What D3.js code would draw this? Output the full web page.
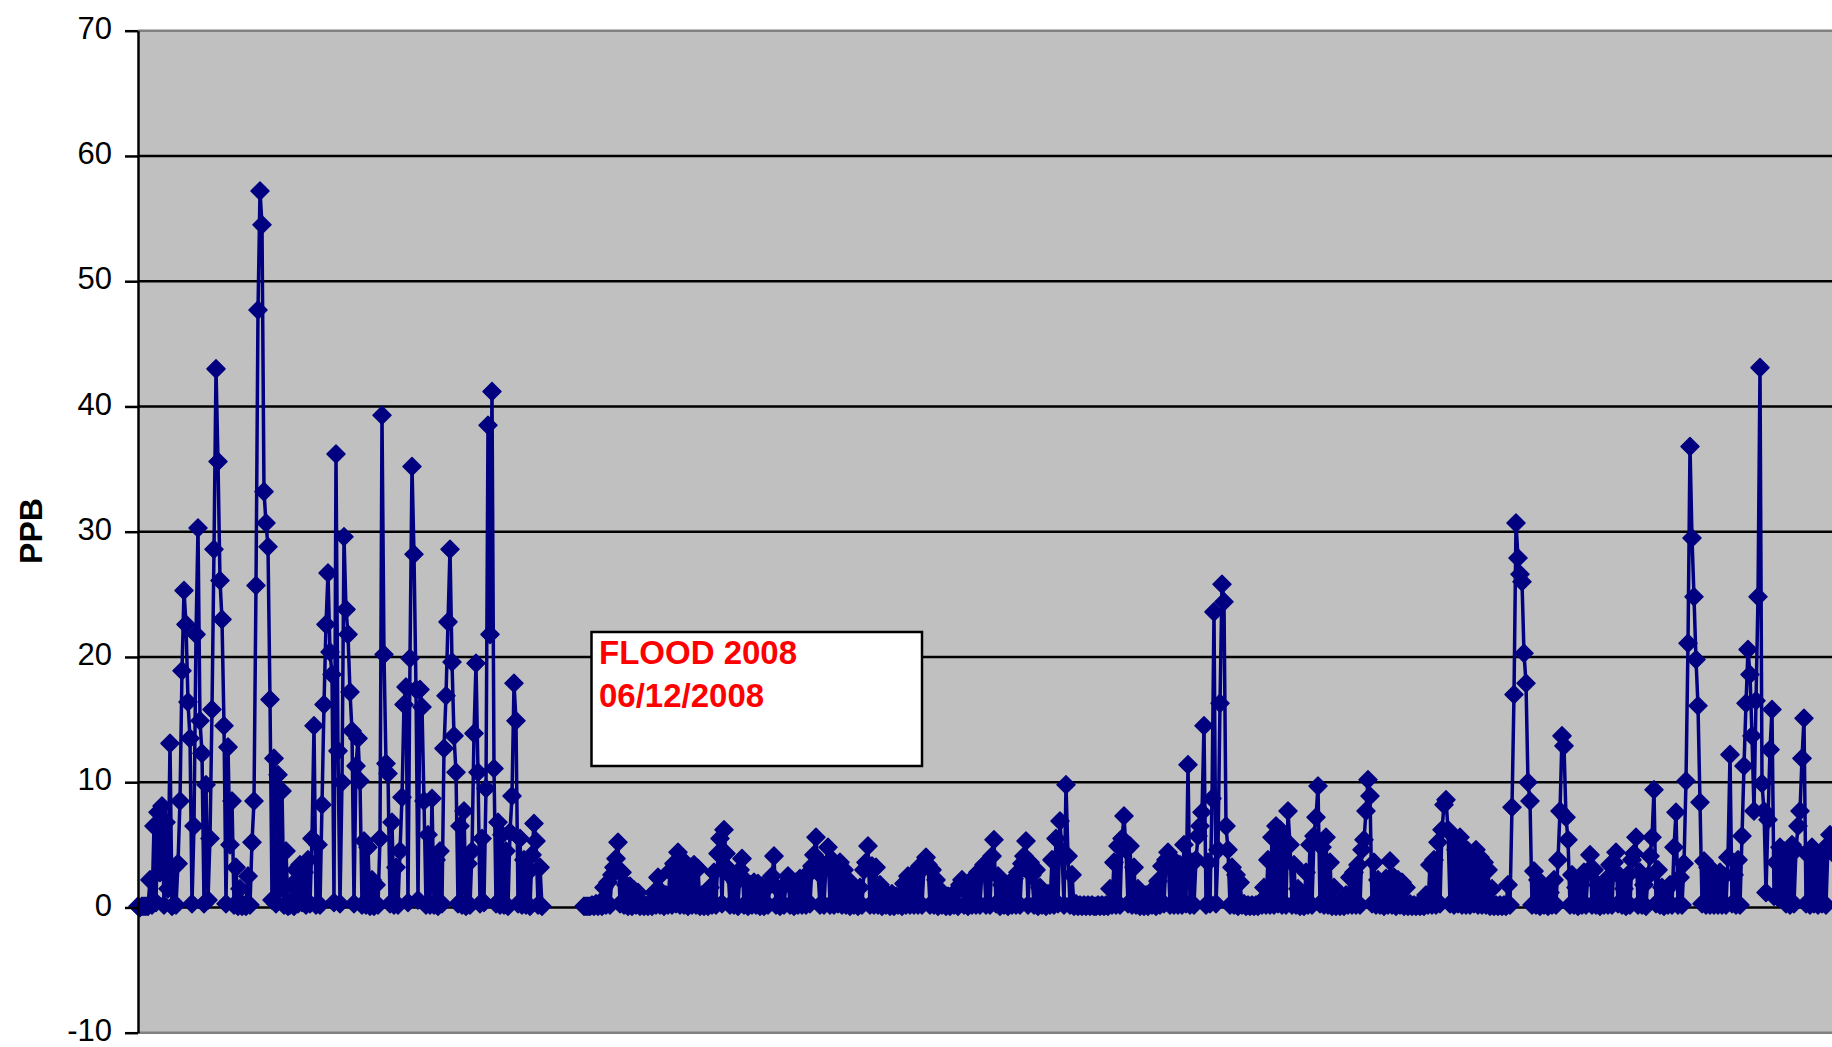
<!DOCTYPE html>
<html>
<head>
<meta charset="utf-8">
<script src="https://cdn.jsdelivr.net/npm/d3@7"></script>
<style>
  body { margin: 0; background: #fff; }
  svg { display: block; font-family: "Liberation Sans", Arial, sans-serif; }
</style>
</head>
<body>
<div id="chart"></div>
<script>
// y axis ticks (PPB)
var yTicks = [-10, 0, 10, 20, 30, 40, 50, 60, 70];

// readings before the flood, one value per sample
var preFloodPpb = [
  0.1, 0.0, 0.1, 0.1, 0.1, 0.1, 2.2, 0.2, 6.5, 0.4,
  7.6, 2.8, 8.1, 0.2, 6.8, 1.5, 13.1, 0.1, 3.2, 0.2,
  3.5, 8.5, 18.9, 25.3, 22.6, 16.4, 13.5, 0.3, 6.5, 21.8,
  30.3, 14.9, 12.3, 0.3, 9.8, 0.6, 5.5, 15.8, 28.6, 43.0,
  35.6, 26.1, 23.0, 14.5, 0.3, 12.8, 5.0, 8.5, 0.2, 3.2,
  0.1, 1.5, 0.1, 0.2, 0.1, 2.5, 0.2, 5.2, 8.5, 25.7,
  47.7, 57.2, 54.5, 33.2, 30.7, 28.8, 16.6, 0.6, 11.9, 0.3,
  10.6, 1.5, 9.3, 0.2, 4.5, 0.1, 0.2, 1.8, 0.1, 3.0,
  0.3, 3.4, 0.4, 2.8, 0.2, 3.8, 0.3, 5.5, 14.5, 0.2,
  5.0, 0.2, 8.2, 16.2, 22.6, 26.7, 20.4, 18.6, 0.4, 36.2,
  12.5, 0.3, 10.0, 29.6, 23.8, 21.8, 17.2, 14.1, 0.3, 11.3,
  13.5, 10.1, 0.2, 5.3, 0.2, 4.8, 0.1, 2.2, 0.1, 1.8,
  0.2, 5.5, 39.3, 20.2, 11.5, 10.7, 0.3, 6.8, 0.2, 3.2,
  0.2, 4.5, 8.8, 16.2, 17.6, 0.4, 19.9, 35.2, 28.2, 17.4,
  0.6, 17.4, 16.0, 8.5, 0.2, 5.8, 0.2, 8.7, 0.2, 3.8,
  0.1, 4.5, 0.3, 12.7, 16.9, 22.8, 28.6, 19.6, 13.7, 10.8,
  0.3, 6.5, 0.2, 7.7, 0.1, 3.5, 0.2, 4.5, 13.9, 19.5,
  10.8, 0.3, 5.5, 0.4, 9.5, 38.5, 21.8, 41.2, 11.1, 0.3,
  6.8, 0.2, 5.8, 0.2, 4.5, 0.1, 6.0, 8.9, 17.9, 14.9,
  0.3, 5.5, 0.2, 3.8, 0.2, 2.8, 0.1, 4.2, 6.7, 5.3,
  0.2, 3.2, 0.1
];

// samples missing during the flood
var floodGapSamples = 20;

// readings after the flood
var postFloodPpb = [
  0.1, 0.1, 0.1, 0.1, 0.2, 0.1, 0.3, 0.1, 0.4, 0.1,
  1.6, 0.2, 2.0, 0.2, 2.6, 3.2, 3.9, 5.2, 0.3, 2.8,
  0.2, 1.8, 0.1, 1.7, 0.1, 1.4, 0.2, 1.2, 0.1, 0.3,
  0.1, 0.2, 0.1, 0.3, 0.1, 1.2, 0.2, 2.4, 0.2, 1.2,
  0.1, 1.0, 0.2, 2.9, 0.2, 3.5, 0.3, 4.4, 0.2, 3.4,
  0.2, 3.5, 0.1, 3.2, 0.2, 3.4, 0.2, 3.1, 0.1, 1.0,
  0.1, 1.2, 0.1, 1.6, 0.2, 2.8, 0.2, 4.3, 5.5, 0.3,
  6.2, 4.3, 3.1, 0.2, 2.4, 0.2, 2.0, 0.1, 3.0, 3.9,
  0.2, 2.1, 0.1, 1.8, 0.2, 2.0, 0.2, 1.9, 0.1, 1.7,
  0.1, 1.6, 0.2, 1.8, 2.5, 4.1, 0.2, 1.5, 0.1, 1.6,
  0.2, 1.9, 2.5, 0.2, 1.8, 0.1, 2.0, 0.2, 2.3, 0.2,
  2.4, 0.2, 2.6, 0.3, 3.3, 4.2, 5.6, 2.8, 0.2, 3.5,
  0.2, 3.4, 4.8, 0.2, 3.8, 0.2, 3.4, 0.3, 3.6, 0.2,
  3.0, 0.2, 2.2, 0.1, 1.8, 0.2, 1.4, 0.1, 1.6, 0.2,
  3.0, 3.6, 4.9, 0.2, 3.3, 0.2, 3.2, 0.2, 1.8, 0.1,
  1.2, 0.2, 1.0, 0.1, 1.1, 0.1, 0.9, 0.2, 1.0, 0.1,
  1.9, 0.2, 2.5, 0.2, 2.4, 0.2, 2.9, 0.2, 3.3, 0.2,
  3.2, 4.0, 3.4, 0.2, 3.0, 0.2, 2.2, 0.1, 1.4, 0.2,
  1.0, 0.1, 0.9, 0.1, 1.0, 0.2, 1.2, 0.1, 1.8, 2.2,
  0.2, 1.5, 0.1, 1.9, 0.2, 2.4, 0.2, 2.8, 0.2, 3.0,
  3.4, 0.2, 2.9, 0.2, 4.1, 5.4, 0.3, 2.5, 0.1, 1.8,
  0.2, 1.6, 0.1, 1.9, 0.2, 2.3, 0.2, 2.8, 0.2, 3.5,
  4.1, 5.3, 0.2, 3.6, 2.6, 0.2, 3.0, 0.1, 1.6, 0.2,
  1.0, 0.1, 1.1, 0.2, 3.8, 0.2, 5.5, 0.3, 6.9, 4.4,
  0.2, 9.8, 4.1, 0.2, 2.6, 0.1, 0.3, 0.1, 0.2, 0.1,
  0.2, 0.1, 0.2, 0.1, 0.2, 0.1, 0.1, 0.2, 0.1, 0.2,
  0.1, 0.2, 0.1, 1.5, 0.2, 3.6, 0.2, 4.9, 0.2, 5.5,
  7.3, 4.6, 0.3, 4.9, 0.2, 3.2, 0.2, 1.5, 0.1, 0.3,
  0.1, 1.0, 0.1, 1.2, 0.2, 1.1, 0.1, 2.1, 0.2, 3.3,
  0.3, 3.8, 4.4, 0.2, 3.5, 0.2, 3.6, 0.2, 3.4, 0.2,
  5.0, 0.3, 11.4, 0.2, 3.6, 0.2, 3.8, 5.7, 6.5, 7.6,
  14.5, 0.2, 3.6, 0.3, 8.7, 23.6, 0.3, 4.6, 16.3, 25.8,
  24.4, 6.5, 4.6, 0.2, 3.2, 0.2, 2.6, 0.1, 2.0, 0.2,
  0.3, 0.1, 0.2, 0.1, 0.2, 0.1, 0.2, 0.1, 0.4, 0.2,
  1.6, 0.2, 3.8, 0.2, 5.6, 0.2, 6.5, 0.3, 6.2, 0.2,
  5.4, 0.2, 7.7, 5.0, 0.2, 3.4, 0.2, 1.5, 0.1, 0.4,
  0.1, 2.8, 0.2, 5.0, 0.2, 5.7, 7.2, 9.7, 0.3, 4.8,
  0.2, 5.6, 0.2, 3.6, 0.1, 1.6, 0.1, 0.3, 0.1, 0.3,
  0.1, 1.0, 0.2, 2.4, 0.2, 2.8, 0.2, 3.4, 0.2, 4.6,
  5.4, 7.7, 10.2, 8.9, 0.3, 3.6, 0.2, 2.2, 0.2, 1.9,
  0.1, 2.3, 0.2, 3.7, 0.2, 2.4, 0.1, 2.2, 0.2, 2.0,
  0.1, 1.6, 0.1, 0.3, 0.1, 0.2, 0.1, 0.2, 0.1, 0.2,
  0.1, 1.0, 0.2, 3.4, 0.2, 3.8, 0.2, 5.2, 0.3, 6.2,
  8.2, 8.6, 6.2, 0.3, 5.8, 0.2, 4.6, 0.3, 5.6, 0.2,
  4.8, 0.2, 4.5, 0.2, 4.2, 0.3, 4.6, 0.2, 4.0, 0.2,
  3.6, 0.2, 3.0, 0.1, 1.5, 0.1, 0.2, 0.1, 0.2, 0.1,
  0.2, 0.1, 1.8, 0.2, 8.0, 17.0, 30.7, 27.9, 26.6, 26.0,
  20.3, 17.9, 10.0, 8.5, 0.2, 2.9, 0.2, 2.2, 0.1, 1.2,
  0.2, 1.4, 0.1, 1.2, 0.2, 2.2, 0.2, 3.8, 7.7, 13.7,
  12.9, 7.2, 5.4, 0.2, 2.6, 0.2, 1.6, 0.1, 1.8, 0.2,
  2.8, 0.2, 2.9, 4.2, 0.2, 3.0, 0.2, 1.8, 0.1, 1.2,
  0.2, 2.2, 0.2, 3.4, 0.2, 3.6, 4.4, 0.3, 2.5, 0.2,
  1.5, 0.1, 2.6, 0.2, 3.8, 4.3, 5.6, 0.2, 2.8, 0.2,
  1.8, 0.1, 2.5, 4.1, 5.6, 9.4, 0.3, 3.0, 0.2, 1.6,
  0.1, 1.4, 0.2, 1.8, 0.2, 4.8, 7.6, 0.2, 2.4, 0.2,
  3.5, 10.1, 21.1, 36.8, 29.5, 24.8, 19.8, 16.1, 8.4, 0.3,
  3.7, 0.2, 3.2, 0.2, 3.0, 0.2, 2.2, 0.2, 2.8, 0.2,
  2.5, 0.2, 4.0, 12.2, 0.3, 2.6, 0.2, 3.8, 0.2, 5.7,
  11.3, 16.3, 20.6, 18.6, 13.7, 7.7, 16.5, 24.8, 43.1, 9.9,
  7.7, 1.2, 7.0, 12.6, 15.8, 0.9, 3.6, 0.8, 4.8, 0.7,
  4.5, 0.3, 4.2, 0.2, 5.0, 0.3, 4.6, 6.5, 7.7, 11.9,
  15.1, 0.3, 4.2, 0.2, 4.8, 0.3, 4.4, 0.2, 4.0, 0.3,
  4.2, 0.2, 5.0, 5.8, 4.4
];

var noteLines = ["FLOOD 2008", "06/12/2008"];
var yLabel = "PPB";

// dimensions
var W = 1832, H = 1047;
var margin = {top: 30.7, right: 0, bottom: 14.3, left: 138},
    width = W - margin.left - margin.right,
    height = H - margin.top - margin.bottom;

var svg = d3.select("#chart")
  .append("svg")
    .attr("width", W)
    .attr("height", H)
  .append("g")
    .attr("transform", "translate(" + margin.left + "," + margin.top + ")");

// two runs of samples with a hole in between
var postStart = preFloodPpb.length + floodGapSamples;
var runs = [
  preFloodPpb.map(function(v, i) { return {i: i, v: v}; }),
  postFloodPpb.map(function(v, i) { return {i: postStart + i, v: v}; })
];
var nTotal = postStart + postFloodPpb.length;

var x = d3.scaleLinear().domain([0, nTotal - 1]).range([0, width]);
var y = d3.scaleLinear().domain([-10, 70]).range([height, 0]);

// plot background
svg.append("rect")
  .attr("x", 0).attr("y", 0)
  .attr("width", width + 10).attr("height", height)
  .attr("fill", "#c0c0c0");

// gridlines (black), gray edges top and bottom
svg.selectAll("grid")
  .data(yTicks)
  .enter()
  .append("line")
    .attr("x1", 0).attr("x2", width + 10)
    .attr("y1", function(d) { return y(d); })
    .attr("y2", function(d) { return y(d); })
    .attr("stroke", function(d) { return (d == 70 || d == -10) ? "#808080" : "#000"; })
    .attr("stroke-width", 2.5);

// the series line
var line = d3.line()
  .x(function(d) { return x(d.i); })
  .y(function(d) { return y(d.v); });

svg.selectAll("runs")
  .data(runs)
  .enter()
  .append("path")
    .attr("d", function(d) { return line(d); })
    .attr("fill", "none")
    .attr("stroke", "#000080")
    .attr("stroke-width", 3.5)
    .attr("stroke-linejoin", "round");

// diamond markers
var allPts = runs[0].concat(runs[1]);
svg.append("g")
  .selectAll("path")
  .data(allPts)
  .enter()
  .append("path")
    .attr("d", "M0,-9L9,0L0,9L-9,0Z")
    .attr("transform", function(d) { return "translate(" + x(d.i) + "," + y(d.v) + ")"; })
    .attr("fill", "#000080")
    .attr("stroke", "#000080")
    .attr("stroke-width", 1.5)
    .attr("stroke-linejoin", "round");

// y axis
var yAxis = svg.append("g")
  .call(d3.axisLeft(y).tickValues(yTicks).tickSize(13).tickSizeOuter(0).tickPadding(13)
    .tickFormat(function(d) { return String(d); }));
yAxis.attr("font-size", 31).attr("font-family", "'Liberation Sans', Arial, sans-serif");
yAxis.select(".domain").attr("stroke", "#000").attr("stroke-width", 2.5);
yAxis.selectAll(".tick line").attr("stroke", "#000").attr("stroke-width", 2.5);
yAxis.selectAll(".tick text").attr("fill", "#000").attr("dy", "0.25em");

// axis title
d3.select("svg").append("text")
  .attr("transform", "translate(42,531) rotate(-90)")
  .attr("text-anchor", "middle")
  .attr("font-size", 32)
  .attr("font-weight", "bold")
  .text(yLabel);

// flood note box
var note = d3.select("svg").append("g");
note.append("rect")
  .attr("x", 591.5).attr("y", 632)
  .attr("width", 330.5).attr("height", 134)
  .attr("fill", "#fff")
  .attr("stroke", "#000")
  .attr("stroke-width", 2.5);
note.selectAll("text")
  .data(noteLines)
  .enter()
  .append("text")
    .attr("x", 599)
    .attr("y", function(d, i) { return 664 + i * 43; })
    .attr("fill", "#ff0000")
    .attr("font-size", 33)
    .attr("font-weight", "bold")
    .text(function(d) { return d; });
</script>
</body>
</html>
